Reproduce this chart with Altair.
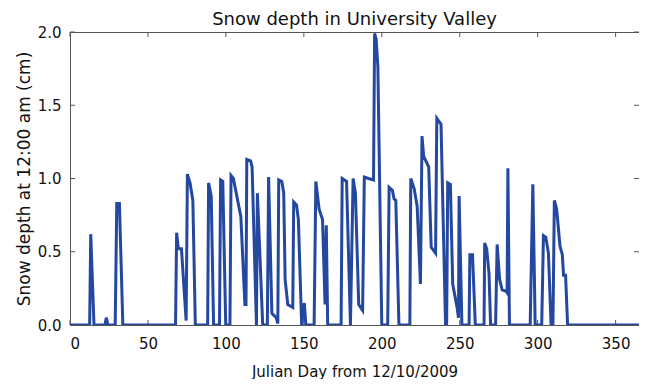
import altair as alt
import pandas as pd

days = [0, 12.6, 13.3, 15.4, 22.4, 23.3, 24.3, 29.0, 30.0, 31.7, 33.9,
        67.7, 68.4, 69.5, 71.5, 74.5, 75.3, 77.0, 78.8, 80.4,
        88.3, 88.9, 90.6, 92.1, 95.9, 96.6, 98.0, 99.9, 102.6, 103.3, 104.8,
        109.6, 112.2, 112.9, 113.4, 115.8, 116.8, 119.6, 120.2, 121.7, 123.6,
        126.6, 127.4, 129.5, 132.3, 133.3, 133.9, 135.9, 137.1, 138.0, 139.7,
        142.9, 143.5, 145.3, 146.5, 148.6, 150.3, 151.3,
        156.6, 157.7, 159.8, 162.0, 163.6, 164.4, 165.3,
        173.9, 174.6, 177.4, 179.9, 181.6, 183.1, 185.2, 187.7, 188.8, 191.5,
        194.7, 195.4, 196.4, 197.5, 200.0,
        203.8, 204.7, 206.8, 207.9, 209.0, 211.0,
        218.0, 218.6, 220.8, 222.7, 224.8, 225.8, 226.9, 230.1, 231.7, 234.5,
        235.3, 238.0, 240.9, 241.6, 242.3, 244.0, 245.5, 248.3, 249.2, 249.6, 251.4,
        256.0, 256.5, 258.2, 260.0,
        265.6, 266.0, 267.3, 268.8, 269.8,
        273.0, 274.0, 275.6, 277.2, 279.8, 280.4, 280.9, 281.9,
        295.2, 296.9, 298.4,
        302.6, 303.7, 305.2, 306.9, 308.6,
        309.8, 310.7, 312.2, 314.3, 315.8, 316.6, 317.9, 319.2, 365]
depth = [0, 0, 0.62, 0, 0, 0.05, 0, 0, 0.83, 0.83, 0,
         0, 0.63, 0.52, 0.52, 0.03, 1.03, 0.97, 0.85, 0,
         0, 0.97, 0.88, 0, 0, 0.99, 0.98, 0, 0, 1.02, 1.00,
         0.74, 0.14, 0.14, 1.13, 1.12, 1.08, 0, 0.90, 0.51, 0,
         0, 1.01, 0.08, 0.05, 0.01, 0.99, 0.98, 0.90, 0.31, 0.14,
         0.12, 0.84, 0.82, 0.72, 0, 0.15, 0,
         0, 0.98, 0.79, 0.72, 0.14, 0.68, 0,
         0, 1.00, 0.98, 0, 1.00, 0.90, 0.14, 0.10, 1.01, 1.00,
         0.99, 1.99, 1.95, 1.76, 0,
         0, 0.94, 0.92, 0.86, 0.85, 0,
         0, 1.00, 0.93, 0.81, 0.28, 1.29, 1.15, 1.08, 0.53, 0.49,
         1.41, 1.37, 0, 0, 0.97, 0.96, 0.28, 0.12, 0.05, 0.88, 0,
         0, 0.48, 0.48, 0,
         0, 0.56, 0.52, 0.35, 0,
         0, 0.55, 0.31, 0.24, 0.23, 0.22, 1.07, 0,
         0, 0.96, 0,
         0, 0.61, 0.60, 0.49, 0,
         0, 0.85, 0.79, 0.54, 0.48, 0.34, 0.34, 0, 0]

x_ticks = [0, 50, 100, 150, 200, 250, 300, 350]
y_ticks = [0.0, 0.5, 1.0, 1.5, 2.0]

W, H = 569, 293
FONT = "DejaVu Sans"
FRAME = "#555555"
TICK_LEN = 5

df = pd.DataFrame({"day": days, "depth": depth})
xt = pd.DataFrame({"day": x_ticks})
yt = pd.DataFrame({"depth": y_ticks})

xscale = alt.Scale(domain=[0, 365], nice=False)
yscale = alt.Scale(domain=[0, 2.0], nice=False)

line = alt.Chart(df).mark_line(color="#2447a0", strokeWidth=3, clip=True).encode(
    x=alt.X("day:Q", scale=xscale,
            axis=alt.Axis(values=x_ticks, title="Julian Day from 12/10/2009",
                          format="d", grid=False, tickSize=0, labelPadding=11,
                          titlePadding=13)),
    y=alt.Y("depth:Q", scale=yscale,
            axis=alt.Axis(values=y_ticks, title="Snow depth at 12:00 am (cm)",
                          format=".1f", grid=False, tickSize=0, labelPadding=9,
                          titlePadding=4, titleFontSize=17)),
)

tb = alt.Chart(xt).mark_rule(color=FRAME, strokeWidth=1).encode(
    x=alt.X("day:Q", scale=xscale), y=alt.value(H), y2=alt.value(H - TICK_LEN))
tt = alt.Chart(xt).mark_rule(color=FRAME, strokeWidth=1).encode(
    x=alt.X("day:Q", scale=xscale), y=alt.value(0), y2=alt.value(TICK_LEN))
tl = alt.Chart(yt).mark_rule(color=FRAME, strokeWidth=1).encode(
    y=alt.Y("depth:Q", scale=yscale), x=alt.value(0), x2=alt.value(TICK_LEN))
tr = alt.Chart(yt).mark_rule(color=FRAME, strokeWidth=1).encode(
    y=alt.Y("depth:Q", scale=yscale), x=alt.value(W), x2=alt.value(W - TICK_LEN))

chart = alt.layer(tb, tt, tl, tr, line).properties(
    width=W, height=H,
    title=alt.Title("Snow depth in University Valley", fontSize=18, font=FONT,
                    fontWeight="normal", color="#111", offset=4, dy=8,
                    frame="group"),
    autosize=alt.AutoSizeParams(type="none"),
    padding={"left": 62, "top": 24, "right": 0, "bottom": 54},
).configure_axis(
    labelFont=FONT, titleFont=FONT, labelFontSize=15, titleFontSize=15,
    labelColor="#111", titleColor="#111", titleFontWeight="normal",
    domainColor=FRAME, domainWidth=1,
).configure_view(stroke=FRAME, strokeWidth=1)

chart.save("out.html", embed_options={"renderer": "svg", "actions": False})
